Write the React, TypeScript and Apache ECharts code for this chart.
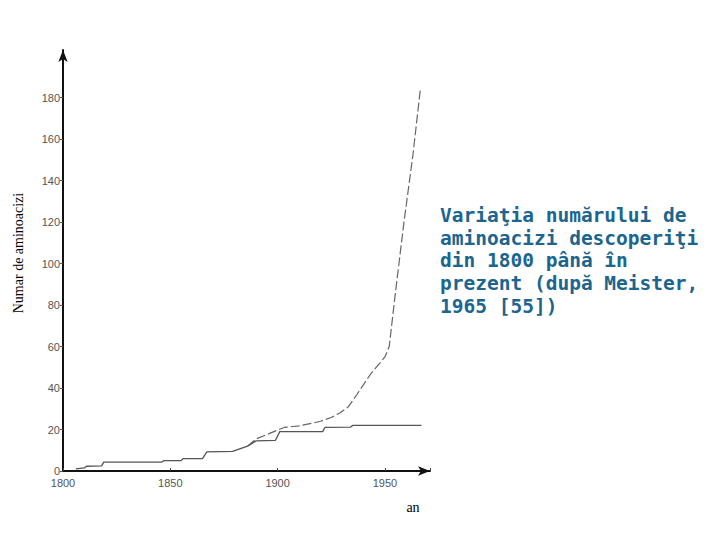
import React, { useEffect, useRef } from "react";
import * as echarts from "echarts";

const yTicks = [0, 20, 40, 60, 80, 100, 120, 140, 160, 180];
const xTicks = [1800, 1850, 1900, 1950];

// Solid step curve (years, number)
const stepYears = [1806, 1810, 1811, 1818, 1819, 1846, 1847, 1855, 1856, 1865, 1867, 1879, 1886, 1890, 1899, 1901, 1921, 1922, 1934, 1935, 1967];
const stepValues = [1, 1.5, 2.3, 2.5, 4.3, 4.3, 5, 5, 6, 6, 9.2, 9.5, 12, 14.5, 14.8, 19, 19, 21, 21.2, 22, 22];

// Dashed total curve
const totalYears = [1886, 1890, 1896, 1903, 1910, 1916, 1920, 1925, 1929, 1933, 1937, 1943.5, 1948, 1950, 1952, 1955, 1959, 1963, 1966.5];
const totalValues = [12, 15.5, 18, 21, 21.8, 23, 24, 25.8, 28, 31, 37, 47, 52.5, 55, 60, 87, 121, 152, 184];

const title = [
  "Variaţia numărului de",
  "aminoacizi descoperiţi",
  "din 1800 până în",
  "prezent (după Meister,",
  "1965 [55])",
];

export default function App() {
  const ref = useRef<HTMLDivElement>(null);
  useEffect(() => {
    if (!ref.current) return;
    const chart = echarts.init(ref.current, undefined, { renderer: "svg" });
    const step = stepYears.map((y, i) => [y, stepValues[i]]);
    const total = totalYears.map((y, i) => [y, totalValues[i]]);
    chart.setOption({
      animation: false,
      backgroundColor: "#ffffff",
      grid: { left: 63, right: 290, top: 50, bottom: 69 },
      xAxis: {
        type: "value",
        min: 1800,
        max: 1971,
        interval: 50,
        axisLine: {
          show: true,
          lineStyle: { color: "#111", width: 2 },
          symbol: ["none", "arrow"],
          symbolSize: [7, 12],
        },
        axisTick: { show: true, length: 3, inside: true, lineStyle: { color: "#444" } },
        axisLabel: {
          color: "#555555",
          fontSize: 11,
          fontFamily: "'Liberation Sans Narrow', 'Liberation Sans', sans-serif",
          margin: 6,
          customValues: xTicks,
          formatter: (v: number) => String(v),
        },
        splitLine: { show: false },
      },
      yAxis: {
        type: "value",
        min: 0,
        max: 203,
        interval: 20,
        axisLine: {
          show: true,
          lineStyle: { color: "#111", width: 2 },
          symbol: ["none", "arrow"],
          symbolSize: [7, 12],
        },
        axisTick: { show: true, length: 3, customValues: yTicks, lineStyle: { color: "#555" } },
        axisLabel: {
          color: "#555555",
          fontSize: 11,
          fontFamily: "'Liberation Sans Narrow', 'Liberation Sans', sans-serif",
          margin: 3,
          customValues: yTicks,
          formatter: (v: number) => String(v),
        },
        splitLine: { show: false },
      },
      series: [
        {
          type: "line",
          data: step,
          showSymbol: false,
          lineStyle: { color: "#555", width: 1.3 },
          z: 3,
        },
        {
          type: "line",
          data: total,
          showSymbol: false,
          lineStyle: { color: "#666", width: 1.2, type: [9, 3] },
          z: 2,
        },
      ],
      graphic: [
        {
          type: "text",
          x: 18,
          y: 253,
          rotation: Math.PI / 2,
          style: {
            text: "Numar de aminoacizi",
            fill: "#000",
            font: "14px 'Liberation Serif', serif",
            align: "center",
            verticalAlign: "middle",
          },
        },
        {
          type: "text",
          x: 413,
          y: 507,
          style: {
            text: "an",
            fill: "#000",
            font: "14px 'Liberation Serif', serif",
            align: "center",
            verticalAlign: "middle",
          },
        },
        {
          type: "text",
          x: 440,
          y: 204,
          style: {
            text: title.join("\n"),
            fill: "#1b6590",
            font: "bold 19.5px 'DejaVu Sans Mono', monospace",
            lineHeight: 22.7,
            align: "left",
            verticalAlign: "top",
          },
        },
      ],
    });
    return () => chart.dispose();
  }, []);
  return <div ref={ref} style={{ width: 720, height: 540, position: "absolute", left: 0, top: 0 }} />;
}
